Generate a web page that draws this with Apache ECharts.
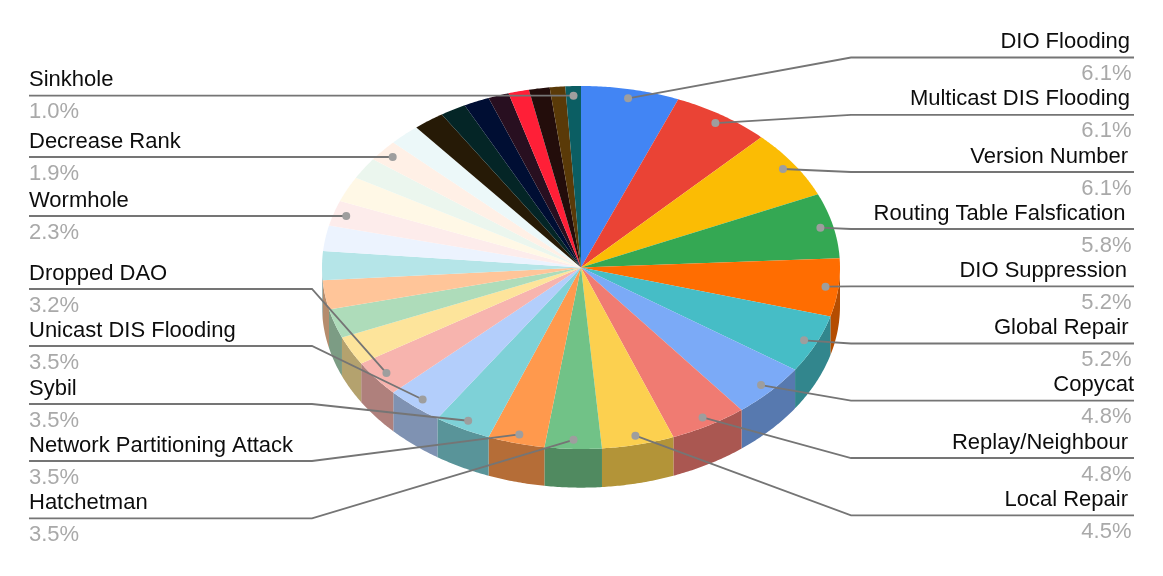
<!DOCTYPE html>
<html>
<head>
<meta charset="utf-8">
<title>Attack share</title>
<script src="https://cdn.jsdelivr.net/npm/echarts@6/dist/echarts.min.js"></script>
<style>
  html, body { margin: 0; padding: 0; background: #fff; }
  #chart { width: 1163px; height: 576px; }
</style>
</head>
<body>
<div id="chart"></div>
<script>
// clockwise from 12 o'clock, unlabelled slices have no name in the picture
const sliceCounts = [19, 19, 19, 18, 16, 16, 15, 15, 14, 11, 11, 11, 11, 10,
  8, 8, 8, 8, 7, 7, 7, 6, 6, 6, 6, 5, 5, 4, 4, 4, 3, 3];
const sliceColors = ['#4285f4', '#ea4335', '#fbbc04', '#34a853', '#ff6d01', '#46bdc6', '#7baaf7',
  '#f07b72', '#fcd04f', '#71c287', '#ff994d', '#7ed1d7', '#b3cefb', '#f7b4ae', '#fde49b', '#aedcba',
  '#ffc599', '#b5e5e8', '#ecf3fe', '#fdeceb', '#fff8e6', '#ebf6ee', '#fff0e6', '#ecf8f9',
  '#261a06', '#042526', '#000e33', '#280f20', '#ff1f37', '#230d0b', '#5a3a08', '#0b5e63'];

// labels, each one points at a slice
const labelNames = ['DIO Flooding', 'Multicast DIS Flooding', 'Version Number', 'Routing Table Falsfication',
  'DIO Suppression', 'Global Repair', 'Copycat', 'Replay/Neighbour', 'Local Repair',
  'Hatchetman', 'Network Partitioning Attack', 'Sybil', 'Unicast DIS Flooding', 'Dropped DAO',
  'Wormhole', 'Decrease Rank', 'Sinkhole'];
const labelSlice = [0, 1, 2, 3, 4, 5, 6, 7, 8, 9, 10, 11, 12, 13, 19, 22, 31];

// label layout in pixels
const labelLineY = [57.5, 114.8, 172, 229, 286.3, 343.5, 400.7, 458, 515.3, 518.3, 461, 404, 346, 289, 216, 157, 95.7];
const labelElbowX = [851, 851, 851, 851, 851, 851, 851, 851, 851, 312, 312, 312, 312, 312, 0, 0, 0];
const labelNameRight = [1130, 1130, 1128, 1125.5, 1127, 1128.5, 1134, 1128, 1128];

const depth = 0.213; // pie thickness, in units of the vertical radius
const dotRadius = 0.95;

const total = sliceCounts.reduce((a, b) => a + b, 0);
let running = 0;
const sliceData = sliceCounts.map((v, i) => {
  const row = [running / total * 360, (running + v) / total * 360, i];
  running += v;
  return row;
});

function darken(hex) {
  const n = parseInt(hex.slice(1), 16);
  const f = c => Math.round(c * 0.71);
  return 'rgb(' + f(n >> 16) + ',' + f((n >> 8) & 255) + ',' + f(n & 255) + ')';
}

function rim(deg, r, drop) {
  const a = deg * Math.PI / 180;
  return [r * Math.sin(a), r * Math.cos(a) - drop];
}

function arc(api, from, to, drop) {
  const pts = [];
  const steps = Math.max(2, Math.ceil(Math.abs(to - from) * 2));
  for (let i = 0; i <= steps; i++) {
    pts.push(api.coord(rim(from + (to - from) * i / steps, 1, drop)));
  }
  return pts;
}

function renderSide(params, api) {
  const from = Math.max(api.value(0), 90);
  const to = Math.min(api.value(1), 270);
  if (to <= from) return null;
  return {
    type: 'polygon',
    shape: { points: arc(api, from, to, 0).concat(arc(api, to, from, depth)) },
    style: { fill: darken(sliceColors[api.value(2)]), stroke: null }
  };
}

function renderTop(params, api) {
  const pts = arc(api, api.value(0), api.value(1), 0);
  pts.push(api.coord([0, 0]));
  return {
    type: 'polygon',
    shape: { points: pts },
    style: { fill: sliceColors[api.value(2)], stroke: null }
  };
}

function renderLabel(params, api) {
  const i = params.dataIndex;
  const s = sliceData[labelSlice[i]];
  const dot = api.coord(rim((s[0] + s[1]) / 2, dotRadius, 0));
  const y = labelLineY[i];
  const onRight = i < 9;
  const endX = onRight ? 1134 : 29;
  const pts = [dot];
  if (labelElbowX[i]) pts.push([labelElbowX[i], y]);
  else pts[0] = [dot[0], y];
  pts.push([endX, y]);
  const align = onRight ? 'right' : 'left';
  const pct = (sliceCounts[labelSlice[i]] / total * 100).toFixed(1) + '%';
  return {
    type: 'group',
    children: [
      { type: 'polyline', shape: { points: pts }, style: { fill: null, stroke: '#757575', lineWidth: 1.8 } },
      { type: 'circle', shape: { cx: dot[0], cy: labelElbowX[i] ? dot[1] : y, r: 4 }, style: { fill: '#9e9e9e' } },
      { type: 'text', style: { x: onRight ? labelNameRight[i] : 29, y: y - 15.5, text: labelNames[i], align: align, verticalAlign: 'middle',
        fill: '#0d0d0d', font: '22px "Liberation Sans", Arial, sans-serif' } },
      { type: 'text', style: { x: onRight ? 1131.5 : 29, y: y + 16.5, text: pct, align: align, verticalAlign: 'middle',
        fill: '#a9a9a9', font: '22px "Liberation Sans", Arial, sans-serif' } }
    ]
  };
}

const chart = echarts.init(document.getElementById('chart'), null, { renderer: 'canvas' });
chart.setOption({
  animation: false,
  backgroundColor: '#fff',
  tooltip: { show: false },
  grid: { left: 322, top: 86, width: 518, height: 363 },
  xAxis: { type: 'value', min: -1, max: 1, show: false },
  yAxis: { type: 'value', min: -1, max: 1, show: false },
  series: [
    { type: 'custom', silent: true, clip: false, z: 1, renderItem: renderSide, data: sliceData },
    { type: 'custom', silent: true, clip: false, z: 2, renderItem: renderTop, data: sliceData },
    { type: 'custom', silent: true, clip: false, z: 3, renderItem: renderLabel, data: labelNames.map((n, i) => [i]) }
  ]
});
</script>
</body>
</html>
